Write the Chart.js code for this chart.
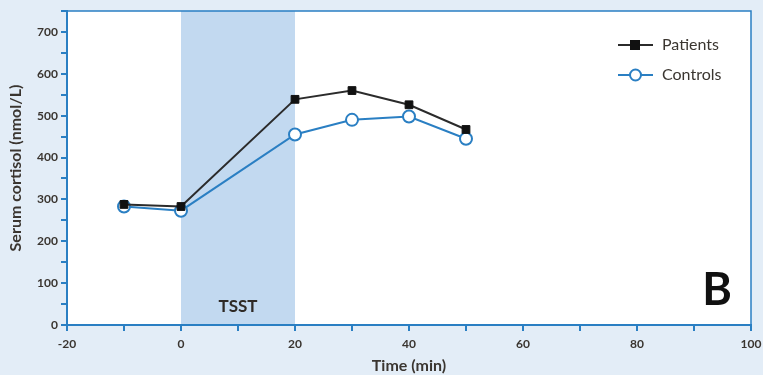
<!DOCTYPE html>
<html>
<head>
<meta charset="utf-8">
<script src="https://cdn.jsdelivr.net/npm/chart.js@4/dist/chart.umd.min.js"></script>
<style>
  html, body { margin: 0; padding: 0; background: #e3edf7; }
  #wrap { width: 763px; height: 375px; position: relative; }
</style>
</head>
<body>
<div id="wrap"><canvas id="c" width="763" height="375"></canvas></div>
<script>
// Sampling times (min) relative to the start of the stress test
const times = [-10, 0, 20, 30, 40, 50];
// Serum cortisol (nmol/L)
const patients = [288, 283, 539, 560, 526, 467];
const controls = [283, 273, 455, 490, 498, 445];
// Stress-test window (min)
const tsstWindow = [0, 20];
const seriesNames = ['Patients', 'Controls'];

const axisBlue = '#2a7fc3';
const textDark = '#3a3530';
const fontFam = 'Lato, "Open Sans", sans-serif';

const overlay = {
  id: 'overlay',
  beforeDraw(chart) {
    const { ctx, chartArea: a, scales: { x } } = chart;
    ctx.save();
    ctx.fillStyle = '#e3edf7';
    ctx.fillRect(0, 0, chart.width, chart.height);
    ctx.fillStyle = '#ffffff';
    ctx.fillRect(a.left, a.top, a.right - a.left, a.bottom - a.top);
    const x0 = x.getPixelForValue(tsstWindow[0]);
    const x1 = x.getPixelForValue(tsstWindow[1]);
    ctx.fillStyle = '#c2d9f0';
    ctx.fillRect(x0, a.top, x1 - x0, a.bottom - a.top);
    ctx.restore();
  },
  afterDatasetsDraw(chart) {
    const { ctx, chartArea: a, scales: { x } } = chart;
    ctx.save();
    // top and right frame
    ctx.strokeStyle = axisBlue;
    ctx.lineWidth = 1.5;
    ctx.beginPath();
    ctx.moveTo(a.left, a.top);
    ctx.lineTo(a.right, a.top);
    ctx.lineTo(a.right, a.bottom);
    ctx.stroke();

    // TSST label
    const xm = (x.getPixelForValue(tsstWindow[0]) + x.getPixelForValue(tsstWindow[1])) / 2;
    ctx.fillStyle = '#2e2a26';
    ctx.font = 'bold 17px ' + fontFam;
    ctx.textAlign = 'center';
    ctx.textBaseline = 'middle';
    ctx.fillText('TSST', xm, 307);

    // panel letter
    ctx.fillStyle = '#111111';
    ctx.font = 'bold 45px ' + fontFam;
    ctx.fillText('B', 717, 290);

    // legend
    const ds = chart.data.datasets;
    const rows = [45, 75];
    ds.forEach((d, i) => {
      const y = rows[i];
      ctx.strokeStyle = d.borderColor;
      ctx.lineWidth = 2;
      ctx.beginPath();
      ctx.moveTo(618, y);
      ctx.lineTo(653, y);
      ctx.stroke();
      if (d.pointStyle === 'rect') {
        ctx.fillStyle = d.pointBackgroundColor;
        ctx.fillRect(630, y - 5, 10, 10);
      } else {
        ctx.fillStyle = '#ffffff';
        ctx.lineWidth = 2;
        ctx.beginPath();
        ctx.arc(635.5, y, 5.5, 0, Math.PI * 2);
        ctx.fill();
        ctx.stroke();
      }
      ctx.fillStyle = textDark;
      ctx.font = '16px ' + fontFam;
      ctx.textAlign = 'left';
      ctx.fillText(d.label, 662, y);
    });
    ctx.restore();
  }
};

new Chart(document.getElementById('c'), {
  type: 'line',
  data: {
    datasets: [
      {
        label: seriesNames[0],
        data: times.map((t, i) => ({ x: t, y: patients[i] })),
        borderColor: '#2b2b2b',
        borderWidth: 2,
        pointStyle: 'rect',
        pointRadius: 5.5,
        pointBackgroundColor: '#111111',
        pointBorderColor: '#111111',
        pointBorderWidth: 1,
        tension: 0
      },
      {
        label: seriesNames[1],
        data: times.map((t, i) => ({ x: t, y: controls[i] })),
        borderColor: axisBlue,
        borderWidth: 2,
        pointStyle: 'circle',
        pointRadius: 6,
        pointBackgroundColor: '#ffffff',
        pointBorderColor: axisBlue,
        pointBorderWidth: 2,
        tension: 0
      }
    ]
  },
  options: {
    responsive: false,
    animation: false,
    layout: { autoPadding: false, padding: { top: 11, right: 12, left: 0, bottom: 0 } },
    plugins: { legend: { display: false }, tooltip: { enabled: false } },
    scales: {
      x: {
        type: 'linear',
        min: -20,
        max: 100,
        afterFit(s) { s.height = 50; s.paddingLeft = 0; s.paddingRight = 0; },
        ticks: {
          stepSize: 10,
          padding: 6,
          color: textDark,
          font: { family: fontFam, size: 12, weight: 'bold' },
          maxRotation: 0,
          autoSkip: false,
          callback: v => (v % 20 === 0 ? String(v) : '')
        },
        grid: { drawOnChartArea: false, drawTicks: true, tickLength: 6, color: axisBlue, lineWidth: 2 },
        border: { color: axisBlue, width: 2 },
        title: {
          display: true,
          text: 'Time (min)',
          color: textDark,
          font: { family: fontFam, size: 16, weight: 'bold' },
          padding: { top: 0, bottom: 0 }
        }
      },
      y: {
        type: 'linear',
        min: 0,
        max: 750,
        afterFit(s) { s.width = 67; s.paddingTop = 0; s.paddingBottom = 0; },
        ticks: {
          stepSize: 50,
          padding: 3,
          color: textDark,
          font: { family: fontFam, size: 12, weight: 'bold' },
          autoSkip: false,
          callback: v => (v % 100 === 0 ? String(v) : '')
        },
        grid: { drawOnChartArea: false, drawTicks: true, tickLength: 6, color: axisBlue, lineWidth: 2 },
        border: { color: axisBlue, width: 2 },
        title: {
          display: true,
          text: 'Serum cortisol (nmol/L)',
          color: textDark,
          font: { family: fontFam, size: 16, weight: 'bold' },
          padding: { top: 6, bottom: 0 }
        }
      }
    }
  },
  plugins: [overlay]
});
</script>
</body>
</html>
